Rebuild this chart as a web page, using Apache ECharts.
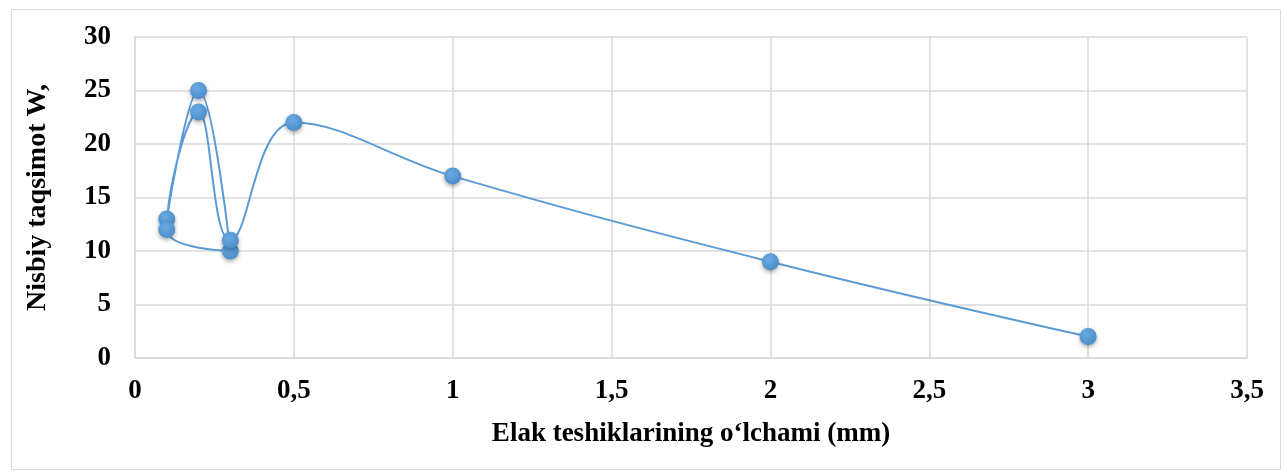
<!DOCTYPE html>
<html><head><meta charset="utf-8">
<script src="https://cdn.jsdelivr.net/npm/echarts@6/dist/echarts.min.js"></script>
<style>html,body{margin:0;padding:0;background:#fff}#c{width:1285px;height:473px}</style>
</head><body><div id="c"></div>
<script>
const xValues = [0.1, 0.2, 0.3, 0.1, 0.2, 0.3, 0.5, 1, 2, 3];
const yValues = [13, 25, 10, 12, 23, 11, 22, 17, 9, 2];
const xTicks = {min: 0, max: 3.5, interval: 0.5};
const yTicks = {min: 0, max: 30, interval: 5};
const xTitle = 'Elak teshiklarining o\u2018lchami (mm)';
const yTitle = 'Nisbiy taqsimot W,';

const pts = xValues.map((x, i) => [x, yValues[i]]);
const font = '"Liberation Serif","Times New Roman",serif';
const chart = echarts.init(document.getElementById('c'));
chart.setOption({
  animation: false,
  graphic: [{type: 'rect', left: 9, top: 7, shape: {width: 1269, height: 460}, style: {fill: 'none', stroke: '#d9d9d9', lineWidth: 1}}],
  grid: {left: 135, right: 38, top: 37, bottom: 115},
  xAxis: {
    type: 'value', min: xTicks.min, max: xTicks.max, interval: xTicks.interval,
    name: xTitle, nameLocation: 'middle', nameGap: 63,
    nameTextStyle: {fontFamily: font, fontWeight: 'bold', fontSize: 27, color: '#000'},
    axisLine: {show: true, lineStyle: {color: '#d9d9d9', width: 1.5}},
    axisTick: {show: false},
    splitLine: {show: true, lineStyle: {color: '#d9d9d9', width: 1.5}},
    axisLabel: {margin: 20, fontFamily: font, fontWeight: 'bold', fontSize: 27, color: '#000',
      formatter: v => String(v).replace('.', ',')}
  },
  yAxis: {
    type: 'value', min: yTicks.min, max: yTicks.max, interval: yTicks.interval,
    name: yTitle, nameLocation: 'middle', nameGap: 83, nameRotate: 90,
    nameTextStyle: {fontFamily: font, fontWeight: 'bold', fontSize: 28, color: '#000'},
    axisLine: {show: true, lineStyle: {color: '#d9d9d9', width: 1.5}},
    axisTick: {show: false},
    splitLine: {show: true, lineStyle: {color: '#d9d9d9', width: 1.5}},
    axisLabel: {margin: 24, fontFamily: font, fontWeight: 'bold', fontSize: 27, color: '#000'}
  },
  series: [{
    type: 'line', data: pts, smooth: 0.4,
    symbol: 'circle', symbolSize: 17,
    lineStyle: {color: '#5B9BD5', width: 2},
    itemStyle: {
      color: new echarts.graphic.RadialGradient(0.4, 0.35, 0.7, [{offset: 0, color: '#6aaae4'}, {offset: 1, color: '#4a8bc8'}]),
      shadowColor: 'rgba(0,0,0,0.35)', shadowBlur: 4, shadowOffsetY: 2
    }
  }]
});
</script></body></html>
